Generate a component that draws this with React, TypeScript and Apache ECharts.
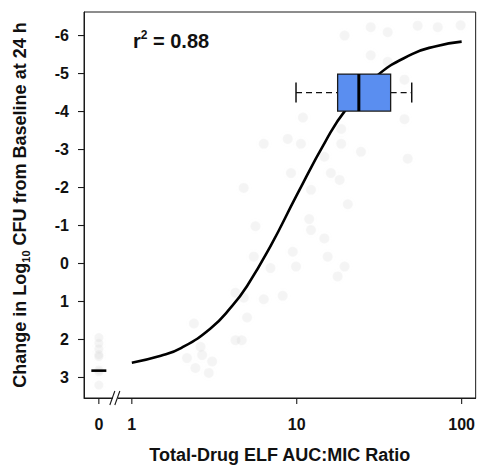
import React, { useEffect, useRef } from "react";
import * as echarts from "echarts";

// Observed 24 h effect vs total-drug ELF AUC:MIC ratio
const SCATTER_AUC = [
  5.62, 5.49, 6.93, 4.25, 4.77, 6.31, 5.0, 2.38, 4.25, 4.64, 2.61, 2.67, 2.16, 3.07, 2.43, 2.93,
  20.4, 11.9, 12.2, 14.7, 9.46, 15.4, 9.9, 19.5, 17.7, 8.22,
  19.5, 28.1, 35.6, 54.1, 71.6, 98.6, 28.1, 35.6, 45.0,
  10.9, 18.6, 45.0, 8.82, 10.6, 18.6, 24.5, 14.7, 47.1, 9.23, 16.1, 18.2, 12.2, 6.31, 4.77,
];
const SCATTER_CHANGE = [
  -0.98, -0.18, 0.12, 0.77, 0.9, 0.94, 1.42, 1.58, 2.02, 2.02, 2.19, 2.41, 2.49, 2.58, 2.75, 2.88,
  -1.56, -1.17, -0.88, -0.66, -0.31, -0.18, 0.08, 0.08, 0.34, 0.85,
  -6.0, -6.22, -6.09, -6.26, -6.22, -6.27, -5.48, -5.31, -4.84,
  -3.84, -3.54, -3.8, -3.28, -3.15, -3.15, -2.94, -2.81, -2.76, -2.38, -2.38, -2.2, -1.94, -3.15, -1.99,
];

// Untreated controls (AUC:MIC = 0) and their median
const CONTROL_CHANGE = [1.95, 2.1, 2.25, 2.4, 2.45, 2.8, 2.85, 3.2];
const CONTROL_MEDIAN = 2.82;

// Fitted exposure-response curve
const CURVE_AUC = [1, 1.5, 2, 3, 4, 5, 7, 10, 15, 20, 30, 50, 70, 100];
const CURVE_CHANGE = [2.61, 2.43, 2.22, 1.71, 1.15, 0.59, -0.49, -1.8, -3.23, -4.07, -4.91, -5.51, -5.72, -5.84];

// AUC:MIC distribution summary: whisker low, Q1, median, Q3, whisker high
const BOX_STATS = [9.9, 17.7, 23.8, 37.1, 49.8];

const Y_TICKS = [-6, -5, -4, -3, -2, -1, 0, 1, 2, 3];
const X_TICK_LABELS = ["0", "1", "10", "100"];

// layout constants (log10 axis space)
const CONTROL_POS = -0.2;
const BREAK_POS = -0.1;
const BOX_Y = -4.5;
const X_MIN = -0.29;
const X_MAX = 2.085;
const Y_MIN = -6.62;
const Y_MAX = 3.54;

const FONT = '"Liberation Sans", Arial, Helvetica, sans-serif';
const INK = "#111";
const FRAME = "#1a1a1a";
const DOT = "rgba(200,200,200,0.2)";
const DOT_GLOW = "rgba(210,210,210,0.4)";
const TICK_LEN = 6;

export default function App() {
  const ref = useRef<HTMLDivElement>(null);

  useEffect(() => {
    if (!ref.current) return;
    const chart = echarts.init(ref.current, undefined, { renderer: "svg" });

    const lg = (v: number) => Math.log10(v);
    const xTickPos = [CONTROL_POS, 0, 1, 2];

    const scatter = SCATTER_AUC.map((a, i) => [lg(a), SCATTER_CHANGE[i]]);
    const controls = CONTROL_CHANGE.map((c) => [CONTROL_POS, c]);
    const curve = CURVE_AUC.map((a, i) => [lg(a), CURVE_CHANGE[i]]);

    const lineStyle = { color: FRAME, width: 1 };
    const tickLine = { stroke: FRAME, lineWidth: 1.1 };

    const option: any = {
      animation: false,
      backgroundColor: "#fff",
      grid: {
        left: 84,
        top: 12,
        right: 2,
        bottom: 66,
        show: true,
        borderColor: FRAME,
        borderWidth: 1,
      },
      xAxis: {
        type: "value",
        min: X_MIN,
        max: X_MAX,
        axisLine: { show: true, onZero: false, lineStyle },
        splitLine: { show: false },
        axisTick: { show: false },
        axisLabel: {
          customValues: xTickPos,
          formatter: (v: number) => {
            const idx = xTickPos.findIndex((p) => Math.abs(p - v) < 1e-6);
            return idx >= 0 ? X_TICK_LABELS[idx] : "";
          },
          fontFamily: FONT,
          fontWeight: "bold",
          fontSize: 16,
          color: INK,
          margin: 18,
        },
        name: "Total-Drug ELF AUC:MIC Ratio",
        nameLocation: "middle",
        nameGap: 48,
        nameTextStyle: { fontFamily: FONT, fontWeight: "bold", fontSize: 18, color: INK },
      },
      yAxis: {
        type: "value",
        inverse: true,
        min: Y_MIN,
        max: Y_MAX,
        axisLine: { show: true, onZero: false, lineStyle },
        splitLine: { show: false },
        axisTick: { show: false },
        axisLabel: {
          customValues: Y_TICKS,
          formatter: (v: number) => String(v),
          fontFamily: FONT,
          fontWeight: "bold",
          fontSize: 16,
          color: INK,
          margin: 15,
        },
        name: "{a|Change in Log}{s|10}{a| CFU from Baseline at 24 h}",
        nameLocation: "middle",
        nameRotate: 90,
        nameGap: 53,
        nameTextStyle: {
          rich: {
            a: { fontFamily: FONT, fontWeight: "bold", fontSize: 18, color: INK, lineHeight: 22 },
            s: {
              fontFamily: FONT,
              fontWeight: "bold",
              fontSize: 11,
              color: INK,
              lineHeight: 11,
              verticalAlign: "bottom",
            },
          },
        },
      },
      graphic: [
        {
          type: "text",
          left: 133,
          top: 29,
          style: {
            text: "{r|r}{p|2}{r| = 0.88}",
            rich: {
              r: { fontFamily: FONT, fontWeight: "bold", fontSize: 20, fill: INK, lineHeight: 23 },
              p: {
                fontFamily: FONT,
                fontWeight: "bold",
                fontSize: 12,
                fill: INK,
                lineHeight: 12,
                verticalAlign: "top",
              },
            },
          },
        },
      ],
      series: [
        {
          type: "scatter",
          data: scatter,
          symbol: "circle",
          symbolSize: 10,
          itemStyle: { color: DOT, shadowBlur: 5, shadowColor: DOT_GLOW },
          silent: true,
          z: 1,
        },
        {
          type: "scatter",
          data: controls,
          symbol: "circle",
          symbolSize: 9,
          itemStyle: { color: DOT, shadowBlur: 5, shadowColor: DOT_GLOW },
          silent: true,
          z: 1,
        },
        {
          type: "line",
          data: curve,
          smooth: 0.5,
          showSymbol: false,
          lineStyle: { color: "#000", width: 2.6 },
          silent: true,
          z: 3,
        },
        {
          // control median dash
          type: "custom",
          data: [[CONTROL_POS, CONTROL_MEDIAN]],
          silent: true,
          z: 4,
          renderItem: (_p: any, api: any) => {
            const [cx, cy] = api.coord([api.value(0), api.value(1)]);
            return {
              type: "line",
              shape: { x1: cx - 7.5, y1: cy, x2: cx + 7.5, y2: cy },
              style: { stroke: "#000", lineWidth: 2.6 },
            };
          },
        },
        {
          // horizontal box plot of AUC:MIC ratios
          type: "custom",
          data: [BOX_STATS.map(lg)],
          silent: true,
          z: 5,
          renderItem: (_p: any, api: any) => {
            const lo = api.coord([api.value(0), BOX_Y]);
            const q1 = api.coord([api.value(1), BOX_Y]);
            const md = api.coord([api.value(2), BOX_Y]);
            const q3 = api.coord([api.value(3), BOX_Y]);
            const hi = api.coord([api.value(4), BOX_Y]);
            const cy = lo[1];
            const halfBox = 18.5;
            const halfCap = 10;
            const whisker = { stroke: "#111", lineWidth: 1.3, lineDash: [6, 4] };
            const cap = { stroke: "#111", lineWidth: 1.5 };
            return {
              type: "group",
              children: [
                { type: "line", shape: { x1: lo[0], y1: cy, x2: q1[0], y2: cy }, style: whisker },
                { type: "line", shape: { x1: q3[0], y1: cy, x2: hi[0], y2: cy }, style: whisker },
                { type: "line", shape: { x1: lo[0], y1: cy - halfCap, x2: lo[0], y2: cy + halfCap }, style: cap },
                { type: "line", shape: { x1: hi[0], y1: cy - halfCap, x2: hi[0], y2: cy + halfCap }, style: cap },
                {
                  type: "rect",
                  shape: { x: q1[0], y: cy - halfBox, width: q3[0] - q1[0], height: halfBox * 2 },
                  style: { fill: "#5a8ef0", stroke: "#1a1a1a", lineWidth: 1.3 },
                },
                {
                  type: "line",
                  shape: { x1: md[0], y1: cy - halfBox, x2: md[0], y2: cy + halfBox },
                  style: { stroke: "#000", lineWidth: 3 },
                },
              ],
            };
          },
        },
        {
          // y-axis tick marks, drawn outward from the left edge
          type: "custom",
          data: Y_TICKS.map((v) => [X_MIN, v]),
          silent: true,
          clip: false,
          z: 10,
          renderItem: (_p: any, api: any) => {
            const [x, y] = api.coord([api.value(0), api.value(1)]);
            return { type: "line", shape: { x1: x - TICK_LEN, y1: y, x2: x, y2: y }, style: tickLine };
          },
        },
        {
          // x-axis tick marks, drawn downward from the bottom edge
          type: "custom",
          data: xTickPos.map((v) => [v, Y_MAX]),
          silent: true,
          clip: false,
          z: 10,
          renderItem: (_p: any, api: any) => {
            const [x, y] = api.coord([api.value(0), api.value(1)]);
            return { type: "line", shape: { x1: x, y1: y, x2: x, y2: y + TICK_LEN }, style: tickLine };
          },
        },
        {
          // axis break marks on the x axis
          type: "custom",
          data: [[BREAK_POS, Y_MAX]],
          silent: true,
          clip: false,
          z: 11,
          renderItem: (_p: any, api: any) => {
            const [cx, cy] = api.coord([api.value(0), api.value(1)]);
            const sl = { stroke: FRAME, lineWidth: 1.1 };
            return {
              type: "group",
              children: [
                { type: "rect", shape: { x: cx - 2.5, y: cy - 2, width: 5, height: 4 }, style: { fill: "#fff" } },
                { type: "line", shape: { x1: cx - 5.5, y1: cy + 7, x2: cx - 0.5, y2: cy - 7 }, style: sl },
                { type: "line", shape: { x1: cx - 0.5, y1: cy + 7, x2: cx + 4.5, y2: cy - 7 }, style: sl },
              ],
            };
          },
        },
      ],
    };

    chart.setOption(option);
    return () => chart.dispose();
  }, []);

  return (
    <div
      ref={ref}
      style={{ position: "fixed", left: 0, top: 0, width: 478, height: 469, background: "#fff" }}
    />
  );
}
